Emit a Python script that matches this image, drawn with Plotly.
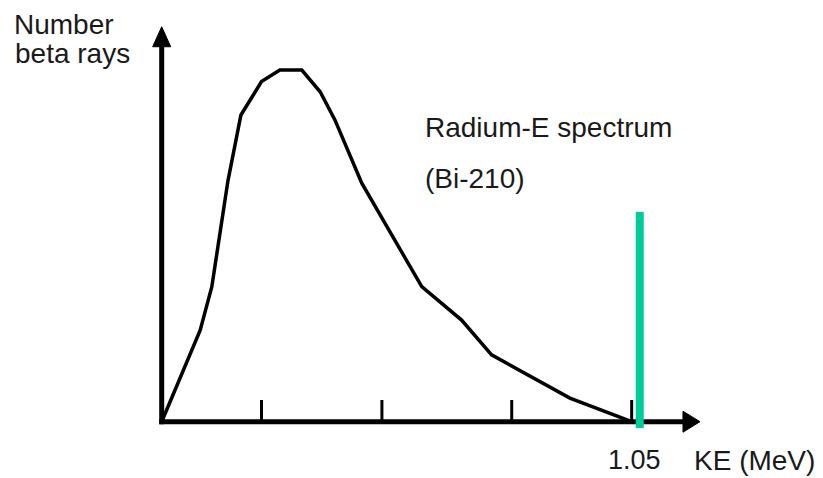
import plotly.graph_objects as go

# ---- data ----
ke_mev = [0.0, 0.086, 0.112, 0.148, 0.177, 0.223, 0.264, 0.313, 0.354, 0.387,
          0.447, 0.581, 0.670, 0.737, 0.912, 1.05]
counts = [0.0, 0.26, 0.384, 0.685, 0.872, 0.967, 1.0, 1.0, 0.938, 0.858,
          0.678, 0.384, 0.289, 0.19, 0.067, 0.0]
tick_mev = [0.223, 0.492, 0.782, 1.05]
tick_labels = ["", "", "", "1.05"]
endpoint_mev = 1.068
endpoint_top = 0.596
endpoint_bottom = -0.018

# ---- layout geometry ----
PAGE_OFF = 8                     # default body margin of the html page
W, H = 823 - PAGE_OFF, 478 - PAGE_OFF
OX, OY = 161.7 - PAGE_OFF, 421.7 - PAGE_OFF   # origin in figure pixels
SX, SY = 447.6, 351.7          # pixels per data unit
X0, X1 = -OX / SX, (W - OX) / SX
Y0, Y1 = -(H - OY) / SY, OY / SY

def dx(px):  # pixel length -> data (x)
    return px / SX

def dy(px):
    return px / SY

x_tip = 1.2026
y_tip = 1.123
FONT = "Liberation Sans, Arial, sans-serif"

fig = go.Figure()
fig.add_trace(go.Scatter(x=ke_mev, y=counts, mode="lines",
                         line=dict(color="black", width=3.5),
                         hoverinfo="skip", showlegend=False))

shapes = []
# axes lines
shapes.append(dict(type="line", xref="x", yref="y", x0=-dx(2.5), y0=0,
                   x1=x_tip - dx(16), y1=0, line=dict(color="black", width=5)))
shapes.append(dict(type="line", xref="x", yref="y", x0=0, y0=-dy(2.5),
                   x1=0, y1=y_tip - dy(18), line=dict(color="black", width=5)))
# arrowheads
hx = x_tip - dx(17)
shapes.append(dict(type="path", xref="x", yref="y",
                   path=f"M {x_tip},0 L {hx},{dy(10.5)} L {hx},{-dy(10.5)} Z",
                   fillcolor="black", line=dict(color="black", width=1)))
hy = y_tip - dy(20)
shapes.append(dict(type="path", xref="x", yref="y",
                   path=f"M 0,{y_tip} L {dx(9)},{hy} L {-dx(9)},{hy} Z",
                   fillcolor="black", line=dict(color="black", width=1)))
# ticks
for t in tick_mev:
    shapes.append(dict(type="line", xref="x", yref="y", x0=t, y0=0,
                       x1=t, y1=dy(21.7), line=dict(color="black", width=3)))
# endpoint marker
shapes.append(dict(type="line", xref="x", yref="y", x0=endpoint_mev, y0=endpoint_bottom,
                   x1=endpoint_mev, y1=endpoint_top, line=dict(color="#00CC99", width=8)))

def px_x(px):  # page pixel -> data
    return (px - PAGE_OFF - OX) / SX

def px_y(py):
    return (OY - (py - PAGE_OFF)) / SY

annotations = []
def label(text, px, py, anchor="left", size=28):
    annotations.append(dict(text=text, x=px_x(px), y=px_y(py), xref="x", yref="y",
                            xanchor=anchor, yanchor="middle", showarrow=False,
                            font=dict(family=FONT, size=size, color="#1a1a1a")))

label("Number", 12, 24.5)
label("beta rays", 13, 53)
label("Radium-E spectrum", 423, 127.5)
label("(Bi-210)", 423, 178.3)
for t, lab in zip(tick_mev, tick_labels):
    if lab:
        annotations.append(dict(text=lab, x=t + dx(2.5), y=px_y(460), xref="x", yref="y",
                                xanchor="center", yanchor="middle", showarrow=False,
                                font=dict(family=FONT, size=27, color="#1a1a1a")))
label("KE (MeV)", 692, 460)

fig.update_layout(
    width=W, height=H, margin=dict(l=0, r=0, t=0, b=0),
    paper_bgcolor="white", plot_bgcolor="white",
    xaxis=dict(range=[X0, X1], visible=False, fixedrange=True),
    yaxis=dict(range=[Y0, Y1], visible=False, fixedrange=True),
    shapes=shapes, annotations=annotations, showlegend=False,
)
fig.write_html("out.html")
